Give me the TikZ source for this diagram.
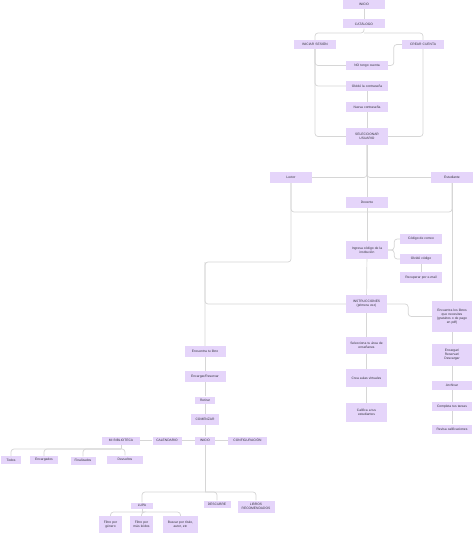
\documentclass[tikz,border=0pt]{standalone}
\usepackage{fontspec}
\setmainfont{Liberation Sans}
\definecolor{boxc}{RGB}{229,213,250}
\definecolor{linec}{RGB}{214,214,214}
\definecolor{txtc}{RGB}{50,50,60}
\begin{document}
\begin{tikzpicture}[x=1pt,y=-1pt,
  bx/.style={fill=boxc,draw=none,inner sep=0pt,align=center,text=txtc,
    font=\fontsize{3.3}{4}\selectfont,minimum width=#1,text width=#1-2pt},
  bx/.default=42pt,
  link/.style={draw=linec,line width=0.7pt,rounded corners=3pt}]
\useasboundingbox[fill=white] (0,0) rectangle (474,534);
% top part
\node[bx,minimum height=9pt] (n1) at (364,4.5) {INICIO};
\node[bx,minimum height=9pt] (cat) at (364,24) {CATÁLOGO};
\node[bx,minimum height=9pt] (ini) at (315,44.5) {INICIAR SESIÓN};
\node[bx,minimum height=9pt] (crear) at (423,44.5) {CREAR CUENTA};
\node[bx,minimum height=9pt] (notengo) at (367,65.5) {NO tengo cuenta};
\node[bx,minimum height=10pt] (olv) at (367,86) {Olvidé la contraseña};
\node[bx,minimum height=10pt] (nueva) at (367,107) {Nueva contraseña};
\node[bx,minimum height=17pt] (sel) at (367,136.5) {SELECCIONAR\\USUARIO};
\node[bx,minimum height=11pt] (lector) at (291,177.5) {Lector};
\node[bx,minimum height=11pt] (est) at (452,177.5) {Estudiante};
\node[bx,minimum height=11pt] (doc) at (367,202.5) {Docente};
\node[bx,minimum height=18pt] (ing) at (367,250) {Ingresa código de la\\institución};
\node[bx,minimum height=10pt] (cod) at (421,239) {Código de correo};
\node[bx,minimum height=10pt] (olvc) at (421,259) {Olvidé código};
\node[bx,minimum height=11pt] (rec) at (421,277.5) {Recuperar por e-mail};
\node[bx=41pt,minimum height=18pt] (instr) at (366.5,304) {INSTRUCCIONES\\(primera vez)};
\node[bx=40pt,minimum height=31pt] (encll) at (452,316.5) {Encuentra los libros\\que necesites\\(gratuitos o de pago\\en pdf)};
\node[bx=41pt,minimum height=17pt] (sela) at (366.5,345.5) {Selecciona tu área de\\enseñanza};
\node[bx=41pt,minimum height=18pt] (crea) at (366.5,378) {Crea aulas virtuales};
\node[bx=41pt,minimum height=19pt] (cal) at (366.5,412.5) {Califica a tus\\estudiantes};
\node[bx=40pt,minimum height=22pt] (enc) at (452,355) {Encargar/\\Reservar/\\Descargar};
\node[bx=40pt,minimum height=9pt] (arch) at (452,385.5) {Archivar};
\node[bx=40pt,minimum height=9pt] (comp) at (452,406.5) {Completa tus tareas};
\node[bx=40pt,minimum height=9pt] (real) at (452,429) {Revisa calificaciones};
% lector branch
\node[bx=41pt,minimum height=11pt] (encl) at (205,351.5) {Encuentra tu libro};
\node[bx=41pt,minimum height=11pt] (encres) at (205,376.5) {Encargar/Reservar};
\node[bx=20pt,minimum height=7pt] (ret) at (205,400) {Retirar};
\node[bx=28pt,minimum height=11pt] (com) at (205,419.5) {COMENZAR};
\node[bx=38pt,minimum height=8pt] (mib) at (121,440.5) {MI BIBLIOTECA};
\node[bx=29pt,minimum height=8pt] (calend) at (167,440.5) {CALENDARIO};
\node[bx=20pt,minimum height=8pt] (ini2) at (205,440.5) {INICIO};
\node[bx=39pt,minimum height=8pt] (conf) at (247.5,440.5) {CONFIGURACIÓN};
\node[bx=20pt,minimum height=8pt] (todos) at (11,460) {Todos};
\node[bx=28pt,minimum height=8pt] (encg) at (44,460) {Encargados};
\node[bx=25pt,minimum height=8pt] (fin) at (83,460.5) {Finalizados};
\node[bx=36pt,minimum height=8pt] (dev) at (125,459.5) {Devueltos};
\node[bx=22pt,minimum height=6pt] (lupa) at (142,505.5) {LUPA};
\node[bx=27pt,minimum height=7pt] (desc) at (217,504) {DESCUBRE};
\node[bx=37pt,minimum height=12pt] (librec) at (256,506.5) {LIBROS\\RECOMENDADOS};
\node[bx=23pt,minimum height=17pt] (fg) at (110.5,524.5) {Filtro por\\género};
\node[bx=23pt,minimum height=17pt] (fm) at (141.5,524.5) {Filtro por\\más leídos};
\node[bx=35pt,minimum height=17pt] (bt) at (180.5,524.5) {Buscar por título,\\autor, etc};
% coordinates
\coordinate (c1) at (364,33);
\coordinate (j1) at (367,177.5);
\coordinate (j2) at (367,212);
\coordinate (k1) at (205,262);
\coordinate (m1) at (121,449);
\coordinate (i1) at (205,492);
\coordinate (u1) at (142,512);
% connectors
\draw[link] (n1) -- (cat);
\draw[link] (cat.south) -- (c1) -| (ini.north);
\draw[link] (c1) -| (crear.north);
\draw[link] (ini.south) |- (sel.west);
\draw[link] (ini.south) |- (notengo.west);
\draw[link] (ini.south) |- (olv.west);
\draw[link] (crear.south) |- (sel.east);
\draw[link] (crear.west) -- ++(-8,0) |- (notengo.east);
\draw[link] (olv) -- (nueva);
\draw[link] (nueva) -- (sel);
\draw[link] (sel.south) |- (lector.east);
\draw[link] (sel.south) |- (est.west);
\draw[link] (sel.south) -- (doc.north);
\draw[link] (lector.south) |- (j2);
\draw[link] (est.south) |- (j2);
\draw[link] (doc.south) -- (ing.north);
\draw[link] (lector.south) |- (k1) -- (encl.north);
\draw[link] (k1) |- (instr.west);
\draw[link] (est.south) -- (encll.north);
\draw[link] (ing.east) -- ++(6,0) |- (cod.west);
\draw[link] (ing.east) -- ++(6,0) |- (olvc.west);
\draw[link] (olvc) -- (rec);
\draw[link] (ing) -- (instr);
\draw[link] (instr.east) -- ++(21,0) |- (encll.west);
\draw[link] (instr) -- (sela);
\draw[link] (sela) -- (crea);
\draw[link] (crea) -- (cal);
\draw[link] (encll) -- (enc);
\draw[link] (enc) -- (arch);
\draw[link] (arch) -- (comp);
\draw[link] (comp) -- (real);
\draw[link] (encl) -- (encres);
\draw[link] (encres) -- (ret);
\draw[link] (ret) -- (com);
\draw[link] (com) -- (ini2);
\draw[link] (mib) -- (calend);
\draw[link] (calend) -- (ini2);
\draw[link] (ini2) -- (conf);
\draw[link] (mib.south) -- (m1);
\draw[link] (m1) -| (todos.north);
\draw[link] (m1) -| (encg.north);
\draw[link] (m1) -| (fin.north);
\draw[link] (m1) -| (dev.north);
\draw[link] (ini2.south) -- (i1);
\draw[link] (i1) -| (lupa.north);
\draw[link] (i1) -| (desc.north);
\draw[link] (i1) -| (librec.north);
\draw[link] (lupa.south) -- (u1);
\draw[link] (u1) -| (fg.north);
\draw[link] (u1) -| (fm.north);
\draw[link] (u1) -| (bt.north);
\end{tikzpicture}
\end{document}
